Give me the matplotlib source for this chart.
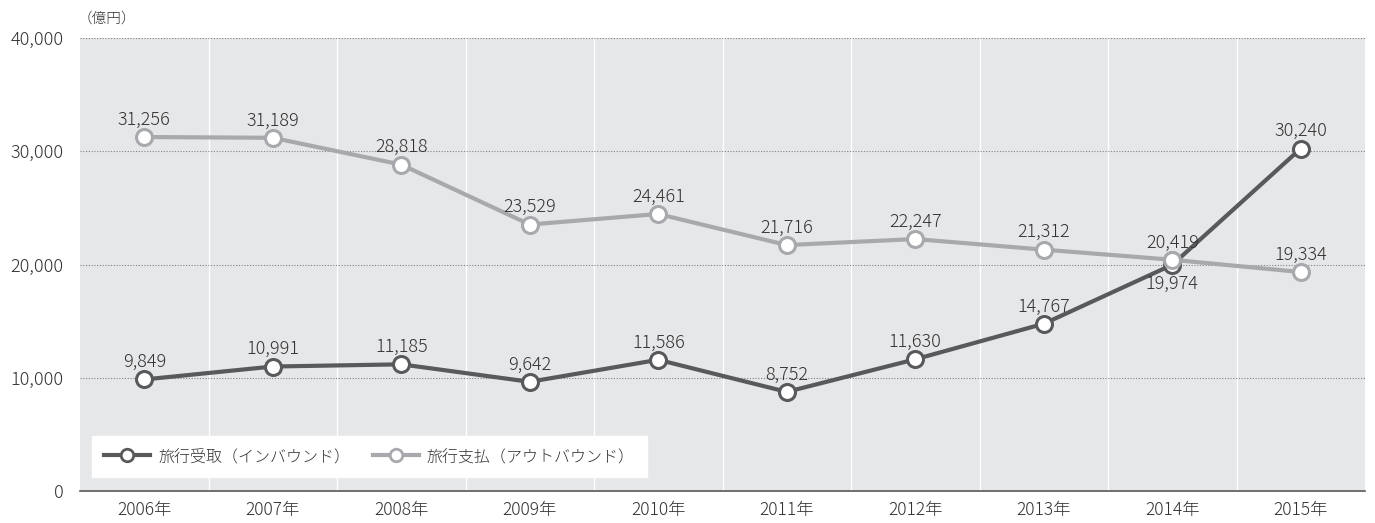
import matplotlib
matplotlib.use("Agg")
import matplotlib.pyplot as plt

plt.rcParams['font.family'] = ['Noto Sans CJK JP', 'DejaVu Sans']
plt.rcParams['font.weight'] = 'light'

years = ["2006年", "2007年", "2008年", "2009年", "2010年", "2011年", "2012年", "2013年", "2014年", "2015年"]
inbound = [9849, 10991, 11185, 9642, 11586, 8752, 11630, 14767, 19974, 30240]
outbound = [31256, 31189, 28818, 23529, 24461, 21716, 22247, 21312, 20419, 19334]
inbound_name = "旅行受取（インバウンド）"
outbound_name = "旅行支払（アウトバウンド）"
yticks = [0, 10000, 20000, 30000, 40000]

c_in = "#58595b"
c_out = "#a7a9ac"
text_c = "#333132"

fig = plt.figure(figsize=(13.75, 5.23), dpi=100)
ax = fig.add_axes([80/1375, 1 - 491/523, (1365-80)/1375, (491-38)/523])
ax.set_facecolor("#e6e7e8")
x = list(range(len(years)))
ax.set_xlim(-0.5, len(years) - 0.5)
ax.set_ylim(0, 40000)

for b in range(1, len(years)):
    ax.axvline(b - 0.5, color="white", lw=1, zorder=1)
for t in yticks[1:]:
    ax.axhline(t, color="#808285", lw=0.8, ls=(0, (1, 1.5)), zorder=1)

ax.plot(x, outbound, color=c_out, lw=3, marker="o", ms=11.5, mfc="white", mec=c_out, mew=2.2, zorder=3, label=outbound_name)
ax.plot(x, inbound, color=c_in, lw=3, marker="o", ms=11.5, mfc="white", mec=c_in, mew=2.2, zorder=4, label=inbound_name)
ax.plot([8], [outbound[8]], marker="o", ms=11.5, mfc="white", mec=c_out, mew=2.2, zorder=5, ls="none")

for i, v in enumerate(outbound):
    ax.annotate(f"{v:,}", (i, v), xytext=(0, 6), textcoords="offset points", ha="center", va="bottom", fontsize=13, color=text_c, zorder=6)
for i, v in enumerate(inbound):
    if i == 8:
        ax.annotate(f"{v:,}", (i, v), xytext=(0, -7), textcoords="offset points", ha="center", va="top", fontsize=13, color=text_c, zorder=6)
    else:
        ax.annotate(f"{v:,}", (i, v), xytext=(0, 6), textcoords="offset points", ha="center", va="bottom", fontsize=13, color=text_c, zorder=6)

for s in ["top", "right", "left"]:
    ax.spines[s].set_visible(False)
ax.spines["bottom"].set_color("#58595b")
ax.spines["bottom"].set_linewidth(1.2)
ax.set_xticks(x)
ax.set_xticklabels(years, fontsize=12.5, color=text_c)
ax.set_yticks(yticks)
ax.set_yticklabels([f"{t:,}" for t in yticks], fontsize=13, color=text_c)
ax.tick_params(axis="both", length=0)
ax.tick_params(axis="x", pad=7)
ax.tick_params(axis="y", pad=12)

fig.text(78/1375, 1 - 19/523, "（億円）", fontsize=10.5, color=text_c, va="center", ha="left")

h, l = ax.get_legend_handles_labels()
leg = ax.legend([h[1], h[0]], [l[1], l[0]], loc="lower left", bbox_to_anchor=(12/1285, 14/453), ncol=2,
                borderaxespad=0,
                frameon=True, fancybox=False, framealpha=1, edgecolor="white", facecolor="white",
                fontsize=11.5, handlelength=2.9, columnspacing=1.4, borderpad=0.75, handletextpad=0.5)
for t in leg.get_texts():
    t.set_color(text_c)
for lh in leg.legend_handles:
    lh.set_markersize(9)
    lh.set_markeredgewidth(2)

fig.savefig("out.png", dpi=100)
